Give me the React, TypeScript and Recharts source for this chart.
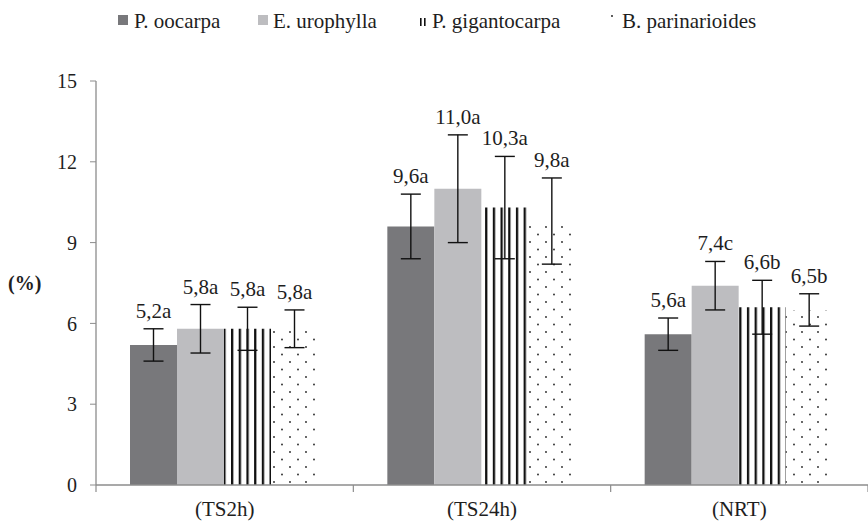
import React from 'react';
import { BarChart, Bar, XAxis, YAxis, ErrorBar, LabelList } from 'recharts';

const categories = ['(TS2h)', '(TS24h)', '(NRT)'];
const oocarpa = [5.2, 9.6, 5.6];
const urophylla = [5.8, 11.0, 7.4];
const gigantocarpa = [5.8, 10.3, 6.6];
const parinarioides = [5.8, 9.8, 6.5];
const oocarpaErr = [0.6, 1.2, 0.6];
const urophyllaErr = [0.9, 2.0, 0.9];
const gigantocarpaErr = [0.8, 1.9, 1.0];
const parinarioidesErr = [0.7, 1.6, 0.6];
const oocarpaLbl = ['5,2a', '9,6a', '5,6a'];
const urophyllaLbl = ['5,8a', '11,0a', '7,4c'];
const gigantocarpaLbl = ['5,8a', '10,3a', '6,6b'];
const parinarioidesLbl = ['5,8a', '9,8a', '6,5b'];
const yTicks = [0, 3, 6, 9, 12, 15];

const FONT = "'Times New Roman', Times, 'Liberation Serif', Tinos, 'Noto Serif', 'DejaVu Serif', FreeSerif, serif";
const TEXT = '#1e1e1e';
const AXIS = '#8c8c8c';

const data = categories.map((c, i) => ({
  cat: c,
  oo: oocarpa[i], ooE: oocarpaErr[i],
  ur: urophylla[i], urE: urophyllaErr[i],
  gi: gigantocarpa[i], giE: gigantocarpaErr[i],
  pa: parinarioides[i], paE: parinarioidesErr[i],
}));

// label sits above the top of the error bar
const makeLabel = (labels: string[], errs: number[]) => (props: any) => {
  const { x, y, width, height, value, index } = props;
  const pxPerUnit = height / value;
  const errTop = y - errs[index] * pxPerUnit;
  return (
    <text x={x + width / 2} y={errTop - 11} textAnchor="middle" style={{ fontSize: 21, fill: TEXT, fontFamily: FONT }}>
      {labels[index]}
    </text>
  );
};

// category label plus small ticks on the category boundaries
const CatTick = (props: any) => {
  const { x, y, payload, index, visibleTicksCount } = props;
  const half = payload.offset || 0;
  const axisY = y - 16;
  const isLast = index === visibleTicksCount - 1;
  return (
    <g>
      <line x1={x - half} x2={x - half} y1={axisY} y2={axisY + 7} stroke={AXIS} strokeWidth={1.2} />
      {isLast && <line x1={x + half} x2={x + half} y1={axisY} y2={axisY + 7} stroke={AXIS} strokeWidth={1.2} />}
      <text x={x} y={y} dy="0.71em" textAnchor="middle" style={{ fontSize: 21, fill: TEXT, fontFamily: FONT }}>
        {payload.value}
      </text>
    </g>
  );
};

const Legend = () => (
  <svg width={868} height={40} style={{ position: 'absolute', left: 0, top: 0 }}>
    <g style={{ fontFamily: FONT, fontSize: 21, fill: TEXT }}>
      <rect x={118} y={15} width={10} height={10} fill="#78787b" />
      <text x={134} y={28}>P. oocarpa</text>
      <rect x={258} y={15} width={10} height={10} fill="#bdbdc0" />
      <text x={273} y={28}>E. urophylla</text>
      <rect x={420} y={18} width={1.6} height={8} fill="#111" />
      <rect x={424} y={18} width={1.6} height={8} fill="#111" />
      <text x={432} y={28}>P. gigantocarpa</text>
      <circle cx={612} cy={16} r={0.9} fill="#111" />
      <text x={622} y={28}>B. parinarioides</text>
    </g>
  </svg>
);

export default function App() {
  return (
    <div style={{ position: 'absolute', left: 0, top: 0, width: 868, height: 522, background: '#fff', fontFamily: FONT }}>
      <BarChart
        width={868}
        height={522}
        data={data}
        margin={{ top: 81, right: 0, bottom: 0, left: 0 }}
        barCategoryGap={34}
        barGap={0}
      >
        <defs>
          <pattern id="stripes" patternUnits="userSpaceOnUse" width={7.7} height={10}>
            <rect x={0} y={0} width={2.3} height={10} fill="#111" />
          </pattern>
          <pattern id="dots" patternUnits="userSpaceOnUse" width={16} height={15}>
            <circle cx={2} cy={2} r={0.9} fill="#222" />
            <circle cx={10} cy={9.5} r={0.9} fill="#222" />
          </pattern>
        </defs>
        <XAxis
          dataKey="cat"
          height={37}
          tickLine={false}
          tickSize={6}
          tickMargin={10}
          axisLine={{ stroke: AXIS, strokeWidth: 1.3 }}
          tick={<CatTick />}
        />
        <YAxis
          width={96}
          domain={[0, 15]}
          ticks={yTicks}
          interval={0}
          axisLine={{ stroke: AXIS, strokeWidth: 1.3 }}
          tickLine={{ stroke: AXIS }}
          tickSize={6}
          tickMargin={13}
          tick={{ fontSize: 20, fill: TEXT, style: { fontFamily: FONT } }}
          label={{ value: '(%)', position: 'insideLeft', offset: 8, style: { fontSize: 20, fontWeight: 'bold', fill: TEXT, fontFamily: FONT } }}
        />
        <Bar dataKey="oo" fill="#78787b" isAnimationActive={false}>
          <ErrorBar dataKey="ooE" width={10} stroke="#111" strokeWidth={1.4} isAnimationActive={false} />
          <LabelList dataKey="oo" content={makeLabel(oocarpaLbl, oocarpaErr)} />
        </Bar>
        <Bar dataKey="ur" fill="#bdbdc0" isAnimationActive={false}>
          <ErrorBar dataKey="urE" width={10} stroke="#111" strokeWidth={1.4} isAnimationActive={false} />
          <LabelList dataKey="ur" content={makeLabel(urophyllaLbl, urophyllaErr)} />
        </Bar>
        <Bar dataKey="gi" fill="url(#stripes)" isAnimationActive={false}>
          <ErrorBar dataKey="giE" width={10} stroke="#111" strokeWidth={1.4} isAnimationActive={false} />
          <LabelList dataKey="gi" content={makeLabel(gigantocarpaLbl, gigantocarpaErr)} />
        </Bar>
        <Bar dataKey="pa" fill="url(#dots)" isAnimationActive={false}>
          <ErrorBar dataKey="paE" width={10} stroke="#111" strokeWidth={1.4} isAnimationActive={false} />
          <LabelList dataKey="pa" content={makeLabel(parinarioidesLbl, parinarioidesErr)} />
        </Bar>
      </BarChart>
      <Legend />
    </div>
  );
}
